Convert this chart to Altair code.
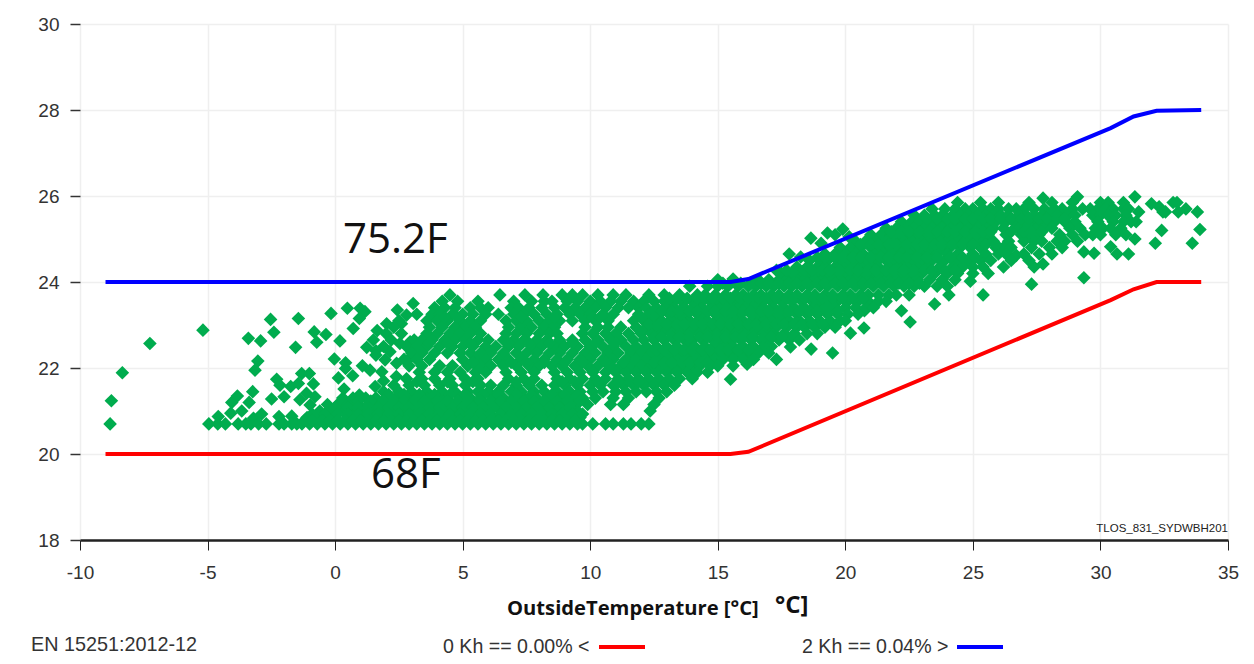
import altair as alt
import pandas as pd

# Comfort limits
upper_x = [-9.0, 15.5, 16.2, 30.4, 31.3, 32.2, 33.95]
upper_y = [24.0, 24.0, 24.07, 27.58, 27.85, 27.98, 28.0]
lower_x = [-9.0, 15.5, 16.2, 30.4, 31.3, 32.2, 33.95]
lower_y = [20.0, 20.0, 20.05, 23.58, 23.83, 24.0, 24.0]

# Isolated readings
sparse_x = [-8.82,-8.77,-8.34,-7.26,-5.18,-4.58,-4.09,-4.05,-3.83,-3.66,-3.37,-3.23,-2.49,-3.2,-2.88,-2.2,-1.7,-2.0,-2.29,-2.16,-1.74,-1.44,-1.31,-1.01,-0.85,-1.38,-1.12,-0.79,-0.98,-3.03,-3.14,-3.4,-2.92,-2.4,-2.53,-1.44,-1.55,-0.82,-0.72,-0.36,-0.16,0.48,0.98,1.17,0.95,0.71,0.19,-0.03,0.41,0.41,0.13,0.69,0.35,0.95,1.07,1.37,1.83,1.57,1.24,1.5,1.65,2.02,2.44,3.06,2.8,2.6,1.6,1.6,1.96,2.15,2.41,2.54,2.94,2.86,1.9,2.4,
    22.54,20.73,20.2,19.5,17.3,15.5,16.15,17.85,18.66,24.06,25.4,24.9,27.3,23.5,22.2,20.75,17.8,18.65,19.3,19.9,19.05,18.25,15.6,19.6,20.15,
    33.8,33.9,33.6,33.35,33.05,32.85,33.0,32.45,32.3,32.55,32.0,32.4,32.15,31.35,31.5,31.4,31.35,31.1,30.65,30.4,29.75,29.35,29.35,27.4,27.75,26.7,29.1,27.75]
sparse_y = [20.7,21.24,21.89,22.57,22.88,20.87,20.95,21.2,21.35,21.0,21.2,21.45,21.28,20.83,20.93,20.87,20.88,21.33,21.74,21.6,21.57,21.64,21.87,21.87,21.63,21.26,21.41,21.33,21.14,22.16,21.95,22.69,22.63,22.83,23.13,23.15,22.48,22.84,22.6,22.78,23.27,23.39,23.39,23.31,23.15,22.92,22.63,22.21,22.12,21.99,21.77,21.82,21.51,21.37,22.05,21.95,21.91,21.57,22.48,22.65,22.87,23.03,23.35,23.5,23.23,23.03,22.4,22.3,22.19,22.38,22.11,22.57,22.61,22.19,21.7,21.8,
    23.07,22.93,22.81,22.35,22.2,21.74,22.09,22.49,22.44,23.7,23.7,24.02,23.95,23.49,23.33,23.33,24.65,25.02,25.14,25.23,24.9,24.58,24.07,25.1,25.05,
    25.63,25.22,24.9,25.7,25.63,25.85,25.85,25.63,25.75,25.63,25.82,25.2,24.9,25.98,25.63,25.4,25.0,24.65,24.65,24.82,24.67,24.7,24.1,24.35,24.42,24.62,25.98,25.95]

# Dense cloud, read row by row
y_rows = [25.85,25.7,25.55,25.4,25.25,25.1,24.95,24.8,24.65,24.5,24.35,24.2,24.05,23.9,23.7,23.55,23.4,23.25,23.1,22.95,22.8,22.65,22.5,22.35,22.2,22.05,21.9,21.75,21.6,21.45,21.3,21.15,21.0,20.85,20.7,
          25.47,25.17,24.87,24.57,24.27,23.97,23.62,23.32,23.02,22.72,22.42,22.12,23.18,22.58,22.13,21.68,21.38,21.23,21.08,20.93,20.78]
x_2585 = [24.4,25.3,26.0,27.2,28.1,28.9,30.0,30.3,30.9]
x_2570 = [23.4,23.9,24.3,24.7,25.0,25.4,25.7,26.0,26.4,26.7,27.0,27.4,27.8,28.2,28.5,28.9,29.3,29.6,29.9,30.2,30.5,30.9,31.1]
x_2555 = [22.7,23.1,23.5,23.8,24.2,24.5,24.8,25.2,25.5,25.8,26.1,26.4,26.8,27.1,27.4,27.7,28.0,28.3,28.7,29.0,29.7,30.0,30.3,30.6,31.0]
x_2540 = [22.2,22.6,22.9,23.3,23.6,24.0,24.3,24.6,25.0,25.3,25.6,25.9,26.3,26.6,27.0,27.3,27.6,27.9,28.2,28.6,29.0,29.9,30.5,30.9,31.2]
x_2525 = [21.6,22.0,22.4,22.7,23.1,23.4,23.8,24.1,24.5,24.8,25.2,25.5,25.8,26.2,26.8,27.1,27.5,27.8,28.1,28.8,29.2,29.8,30.1,30.4,30.8]
x_2510 = [21.0,21.4,21.8,22.1,22.5,22.8,23.2,23.5,23.9,24.2,24.6,24.9,25.3,25.6,26.3,26.9,27.2,27.6,28.4,28.9,29.4,29.7,30.0,30.6,31.0]
x_2495 = [20.4,20.8,21.2,21.6,21.9,22.3,22.6,23.0,23.3,23.7,24.0,24.4,24.7,25.1,25.4,25.8,26.4,27.0,27.4,27.7,28.3,28.6,29.1]
x_2480 = [19.8,20.2,20.6,21.0,21.3,21.7,22.0,22.4,22.7,23.1,23.4,23.8,24.1,24.5,24.9,25.3,25.9,26.2,26.5,27.3,28.0,28.5]
x_2465 = [19.2,19.6,20.0,20.4,20.7,21.1,21.5,21.8,22.2,22.5,22.9,23.2,23.6,24.0,24.4,25.0,25.5,26.0,26.3,27.0,27.6,28.1]
x_2450 = [18.6,19.0,19.3,19.7,20.1,20.5,20.8,21.2,21.6,21.9,22.3,22.6,23.0,23.4,23.9,24.4,24.8,25.3,25.7,26.5,27.2]
x_2435 = [18.1,18.5,18.9,19.2,19.6,19.9,20.3,20.6,21.0,21.3,21.7,22.1,22.4,22.8,23.2,23.7,24.2,24.6,25.0,25.4,26.2]
x_2420 = [17.5,17.9,18.2,18.6,18.9,19.3,19.6,20.0,20.4,20.7,21.1,21.4,21.8,22.2,22.6,23.0,23.5,24.0,24.4,25.0,25.6]
x_2405 = [15.0,16.6,17.0,17.4,17.7,18.1,18.4,18.8,19.1,19.5,19.8,20.2,20.5,20.9,21.3,21.6,22.0,22.4,22.8,23.3,23.8,24.3]
x_2390 = [13.9,14.6,15.0,15.4,15.8,16.2,16.5,16.9,17.2,17.6,17.9,18.3,18.6,19.0,19.3,19.7,20.0,20.4,20.7,21.1,21.5,21.9,22.3,22.7,23.1,23.6,24.0]
x_2370 = [4.5,6.46,7.44,8.15,8.9,9.3,9.7,10.3,10.9,11.4,12.3,12.9,13.5,14.2,14.5,14.9,15.3,15.7,16.0,16.4,16.7,17.1,17.4,17.8,18.1,18.5,18.8,19.2,19.5,19.9,20.2,20.6,20.9,21.3,21.7,22.0,22.5]
x_2355 = [4.2,4.8,5.6,7.0,7.7,8.2,8.5,9.1,9.5,10.0,10.4,10.8,11.2,11.7,12.1,12.5,12.9,13.2,13.6,14.0,14.3,14.7,15.0,15.3,15.6,15.9,16.3,16.7,17.1,17.5,17.9,18.3,18.7,19.0,19.4,19.7,20.1,20.5,20.9,21.3,21.6]
x_2340 = [3.9,4.3,4.7,5.3,5.7,6.0,6.9,7.2,7.6,8.1,8.6,9.0,9.4,9.8,10.2,10.6,11.1,11.5,11.9,12.2,12.6,13.0,13.3,13.7,14.1,14.4,14.8,15.1,15.4,15.8,16.1,16.5,16.8,17.2,17.6,18.0,18.4,18.8,19.2,19.6,20.0,20.4,20.8,21.1]
x_2325 = [3.2,3.8,4.1,4.6,5.0,5.4,5.9,6.4,7.0,7.4,7.8,8.3,8.7,9.2,9.6,10.0,10.5,10.9,11.9,12.3,12.7,13.1,13.4,13.8,14.2,14.5,14.9,15.2,15.6,15.9,16.3,16.6,17.0,17.3,17.7,18.1,18.5,18.9,19.3,19.7,20.1,20.5]
x_2310 = [2.5,3.6,4.0,4.4,4.9,5.3,5.7,6.7,7.1,7.5,8.0,8.4,8.8,9.3,9.8,10.2,10.7,11.7,12.1,12.5,12.8,13.2,13.6,13.9,14.3,14.6,15.0,15.4,15.7,16.0,16.4,16.8,17.1,17.5,17.8,18.2,18.6,19.0,19.4,19.8,20.0]
x_2295 = [2.3,3.7,4.2,4.7,5.1,5.5,6.8,7.3,7.7,8.2,8.6,9.8,10.3,10.7,11.2,11.8,12.2,12.6,13.0,13.4,13.7,14.1,14.4,14.8,15.2,15.5,15.9,16.2,16.6,17.0,17.3,17.7,18.1,18.4,18.8,19.2,19.6]
x_2280 = [2.0,2.6,3.6,4.0,4.5,4.9,5.3,5.7,6.7,7.1,7.5,8.0,8.4,8.7,9.7,10.1,10.6,11.0,11.5,12.0,12.4,12.8,13.2,13.5,13.9,14.3,14.6,15.0,15.3,15.7,16.1,16.4,16.8,17.2,17.6,18.0,18.5,18.9]
x_2265 = [2.2,3.1,3.4,3.8,4.3,4.7,5.1,5.6,6.0,6.6,7.0,7.4,7.9,8.3,8.8,9.3,9.8,10.3,10.8,11.2,11.7,12.1,12.5,12.9,13.3,13.7,14.0,14.4,14.8,15.1,15.5,15.9,16.3,16.7,17.0,17.4,17.8,18.2]
x_2250 = [1.9,2.8,3.2,3.6,4.1,4.6,5.0,5.4,5.9,6.3,6.8,7.2,7.7,8.1,8.6,9.0,9.5,10.0,10.5,10.9,11.4,11.8,12.2,12.6,13.0,13.4,13.8,14.1,14.5,14.9,15.3,15.6,16.0,16.4,16.8,17.1]
x_2235 = [3.0,3.4,3.9,4.4,4.9,5.3,5.7,6.1,6.6,7.1,7.5,7.9,8.4,8.8,9.3,9.8,10.2,10.7,11.1,11.6,12.0,12.4,12.8,13.2,13.6,13.9,14.3,14.7,15.0,15.4,15.8,16.2,16.6,17.0]
x_2220 = [2.7,3.2,3.7,5.0,5.5,5.9,6.4,6.8,7.3,7.8,8.2,8.7,9.1,9.6,10.0,10.5,10.9,11.4,11.8,12.2,12.6,13.0,13.4,13.8,14.1,14.5,14.9,15.2,15.6,16.0,16.4]
x_2205 = [2.9,3.4,4.1,4.6,5.2,5.7,6.1,6.6,7.1,7.6,8.0,8.5,8.9,9.4,9.9,10.3,10.8,11.2,11.6,12.0,12.4,12.8,13.2,13.6,14.0,14.3,14.7,15.0,15.6]
x_2190 = [3.3,3.9,4.4,4.9,5.5,5.9,6.7,7.3,7.8,8.6,9.1,9.6,10.1,10.6,11.0,11.4,11.8,12.2,12.6,13.0,13.4,13.8,14.2,14.6]
x_2175 = [2.8,3.4,3.9,4.5,5.1,5.6,6.8,7.4,7.8,8.7,9.2,9.7,10.2,10.6,11.1,11.5,11.9,12.3,12.7,13.1,13.5,14.0]
x_2160 = [2.3,2.9,3.5,4.1,4.6,5.1,5.7,6.1,6.6,7.1,7.6,8.1,8.6,9.0,9.5,10.0,10.4,10.9,11.3,11.7,12.1,12.5,12.9,13.3]
x_2145 = [1.9,2.5,3.0,3.6,4.2,4.7,5.2,5.6,6.0,6.4,6.9,7.3,7.8,8.2,8.7,9.2,9.6,10.1,10.5,11.0,11.4,11.8,12.2,12.6,13.0]
x_2130 = [0.3,0.7,1.2,1.6,2.0,2.4,2.8,3.2,3.6,4.0,4.4,4.9,5.3,5.7,6.2,6.6,7.0,7.4,7.9,8.3,8.8,9.2,9.7,10.2,10.9,11.5,12.7]
x_2115 = [-0.3,0.1,0.5,0.9,1.3,1.7,2.1,2.5,2.9,3.3,3.8,4.2,4.6,5.0,5.5,5.9,6.3,6.7,7.2,7.6,8.0,8.5,8.9,9.4,9.9,10.8,11.3,12.5]
x_2100 = [-0.6,-0.2,0.3,0.7,1.1,1.5,1.9,2.3,2.7,3.1,3.5,3.9,4.4,4.8,5.2,5.6,6.0,6.5,6.9,7.3,7.7,8.2,8.6,9.0,9.5,12.35]
x_2085 = [-1.1,-0.8,-0.4,0.0,0.5,0.9,1.3,1.7,2.1,2.5,2.9,3.3,3.7,4.2,4.6,5.0,5.4,5.8,6.2,6.7,7.1,7.5,7.9,8.3,8.8,9.2,9.6]
x_2070 = [-4.95,-4.6,-4.3,-3.8,-3.5,-3.3,-3.0,-2.7,-2.2,-2.0,-1.7,-1.5,-1.3,-1.0,-0.7,-0.4,-0.1,0.2,0.5,0.8,1.1,1.4,1.7,2.0,2.3,2.6,2.9,3.2,3.5,3.8,4.1,4.4,4.7,5.0,5.3,5.6,5.9,6.2,6.5,6.8,7.1,7.4,7.7,8.0,8.3,8.6,8.9,9.2,9.5,9.7,10.1,10.6,10.9,11.3,11.6,12.0,12.3]
# Second pass over the solid core of the cloud
x_2547 = [23.2,23.6,24.0,24.3,24.7,25.0,25.4,25.7,26.1,26.5,26.9,27.2,27.6,27.9,28.3,28.6]
x_2517 = [21.8,22.2,22.5,22.9,23.3,23.6,24.0,24.3,24.7,25.1,25.4,25.7,26.5,27.0,27.3,27.7]
x_2487 = [20.6,21.0,21.3,21.7,22.0,22.4,22.8,23.1,23.5,23.8,24.2,24.6,25.0,25.5,25.9]
x_2457 = [18.9,19.2,19.6,19.9,20.3,20.6,21.0,21.4,21.7,22.1,22.4,22.8,23.2,23.6,24.1,24.6,25.1]
x_2427 = [17.3,17.7,18.0,18.4,18.7,19.1,19.4,19.8,20.2,20.5,20.9,21.2,21.6,21.9,22.3,22.7,23.1,23.4,23.9,24.3]
x_2397 = [15.2,15.5,15.9,16.3,16.7,17.0,17.4,17.8,18.1,18.5,18.9,19.2,19.6,19.9,20.3,20.7,21.0,21.4,21.8,22.1,22.5,22.9]
x_2362 = [13.1,13.4,13.8,14.2,14.5,14.8,15.2,15.5,15.9,16.2,16.6,16.9,17.3,17.7,18.0,18.4,18.8,19.1,19.5,19.9,20.3,20.7]
x_2332 = [12.5,12.8,13.2,13.5,13.9,14.2,14.6,14.9,15.3,15.6,16.0,16.3,16.7,17.0,17.4,17.8,18.2,18.6,18.9,19.3,19.7]
x_2302 = [12.3,12.7,13.0,13.4,13.7,14.1,14.4,14.8,15.1,15.5,15.8,16.2,16.5,16.9,17.3,17.6,18.0,18.3,18.7,19.1]
x_2272 = [12.5,12.8,13.2,13.5,13.9,14.3,14.6,15.0,15.3,15.7,16.0,16.4,16.8,17.1,17.5]
x_2242 = [12.6,12.9,13.3,13.7,14.0,14.4,14.7,15.1,15.4,15.8,16.2]
x_2212 = [12.5,12.9,13.2,13.6,13.9,14.3,14.6]
x_2318 = [4.3,4.8,7.3,8.6,10.1,10.4,12.0]
x_2258 = [3.7,4.4,5.3,6.8,7.6,8.4,9.3,10.2,11.0]
x_2213 = [5.4,6.9,7.5,8.2,9.0,9.7,10.6,11.3]
x_2168 = [3.2,4.4,5.4,7.1,8.9,9.4,10.3,11.1,11.9]
x_2138 = [2.1,2.7,3.3,3.9,4.5,5.1,5.8,6.4,7.1,7.7,8.5,9.0,9.5]
x_2123 = [0.9,1.4,1.9,2.3,2.7,3.1,3.5,4.0,4.4,4.8,5.2,5.7,6.1,6.5,6.9,7.4,7.8,8.2,8.7,9.1,9.6]
x_2108 = [0.0,0.5,0.9,1.3,1.7,2.1,2.5,2.9,3.3,3.7,4.1,4.6,5.0,5.4,5.8,6.2,6.7,7.1,7.5,7.9,8.4,8.8,9.2]
x_2093 = [-0.9,-0.4,0.1,0.5,0.9,1.3,1.7,2.1,2.5,2.9,3.3,3.7,4.1,4.5,4.9,5.3,5.7,6.1,6.5,6.9,7.3,7.7,8.1,8.5,8.9,9.3,9.7]
x_2078 = [-1.2,-0.9,-0.5,-0.2,0.1,0.4,0.7,1.0,1.3,1.6,1.9,2.2,2.5,2.8,3.1,3.4,3.7,4.0,4.3,4.6,4.9,5.2,5.5,5.8,6.1,6.4,6.7,7.0,7.3,7.6,7.9,8.2,8.5,8.8,9.1,9.4]
x_rows = [x_2585,x_2570,x_2555,x_2540,x_2525,x_2510,x_2495,x_2480,x_2465,x_2450,x_2435,x_2420,x_2405,x_2390,x_2370,x_2355,x_2340,x_2325,x_2310,x_2295,x_2280,x_2265,x_2250,x_2235,x_2220,x_2205,x_2190,x_2175,x_2160,x_2145,x_2130,x_2115,x_2100,x_2085,x_2070,
          x_2547,x_2517,x_2487,x_2457,x_2427,x_2397,x_2362,x_2332,x_2302,x_2272,x_2242,x_2212,x_2318,x_2258,x_2213,x_2168,x_2138,x_2123,x_2108,x_2093,x_2078]

x_ticks = [-10,-5,0,5,10,15,20,25,30,35]
y_ticks = [18,20,22,24,26,28,30]

points_x = list(sparse_x)
points_y = list(sparse_y)
for level, row in zip(y_rows, x_rows):
    points_x += row
    points_y += [level] * len(row)

points = pd.DataFrame({"x": points_x, "y": points_y})
up = pd.DataFrame({"x": upper_x, "y": upper_y})
low = pd.DataFrame({"x": lower_x, "y": lower_y})

SANS = "Liberation Sans"
HUM = "Open Sans"
xs = alt.Scale(domain=[-10, 35], nice=False, zero=False)
ys = alt.Scale(domain=[18, 30], nice=False, zero=False)

base = alt.Chart(points).mark_point(shape="diamond", filled=True, size=185, color="#00AC4E", opacity=1, clip=False).encode(
    x=alt.X("x:Q", scale=xs, axis=alt.Axis(
        values=x_ticks, title=None, grid=True, gridColor="#efefef", gridWidth=1.5,
        domainColor="#222222", domainWidth=2.5, tickColor="#222222", tickWidth=1, tickSize=10,
        labelFontSize=19, labelFont=SANS, labelColor="#333333", labelPadding=13, labelFlush=False,
        labelExpr="'' + datum.value")),
    y=alt.Y("y:Q", scale=ys, axis=alt.Axis(
        values=y_ticks, title=None, grid=True, gridColor="#efefef", gridWidth=1.5,
        domain=False, tickColor="#333333", tickWidth=1.5, tickSize=10,
        labelFontSize=19, labelFont=SANS, labelColor="#333333", labelPadding=11)),
)

def limit(df, colour):
    return alt.Chart(df).mark_line(color=colour, strokeWidth=4, interpolate="linear").encode(
        x=alt.X("x:Q", scale=xs), y=alt.Y("y:Q", scale=ys))

def note(text, px, py, size, font=SANS, colour="#333333", align="left", weight="normal"):
    return alt.Chart(pd.DataFrame({"t": [text]})).mark_text(
        font=font, fontSize=size, color=colour, align=align, baseline="middle", fontWeight=weight
    ).encode(x=alt.value(px - 80), y=alt.value(py - 24), text="t:N")

def key(colour, x0, x1):
    return alt.Chart(pd.DataFrame({"k": [colour]})).mark_rule(color=colour, strokeWidth=4).encode(
        x=alt.value(x0 - 80), x2=alt.value(x1 - 80), y=alt.value(647 - 24))

chart = alt.layer(
    base,
    limit(up, "#0000FF"),
    limit(low, "#FF0000"),
    note("75.2F", 343, 240, 42, HUM, "#111111"),
    note("68F", 371, 475, 42, HUM, "#111111"),
    note("TLOS_831_SYDWBH201", 1228, 529, 11.5, SANS, "#222222", "right"),
    note("°C]", 775, 606, 24, HUM, "#111111", "left", "bold"),
    note("OutsideTemperature [°C]", 507, 609, 20.2, HUM, "#111111", "left", "bold"),
    note("EN 15251:2012-12", 31, 645, 19.8),
    note("0 Kh == 0.00% <", 443, 647, 19.6),
    note("2 Kh == 0.04% >", 802, 647, 19.6),
    key("#FF0000", 599, 645),
    key("#0000FF", 957, 1003),
).properties(
    width=1148, height=516,
    autosize=alt.AutoSizeParams(type="none"),
    padding={"left": 72, "top": 16, "right": 18, "bottom": 124},
).configure_view(stroke=None)

chart.save("out.html", embed_options={"renderer": "svg", "actions": False})
